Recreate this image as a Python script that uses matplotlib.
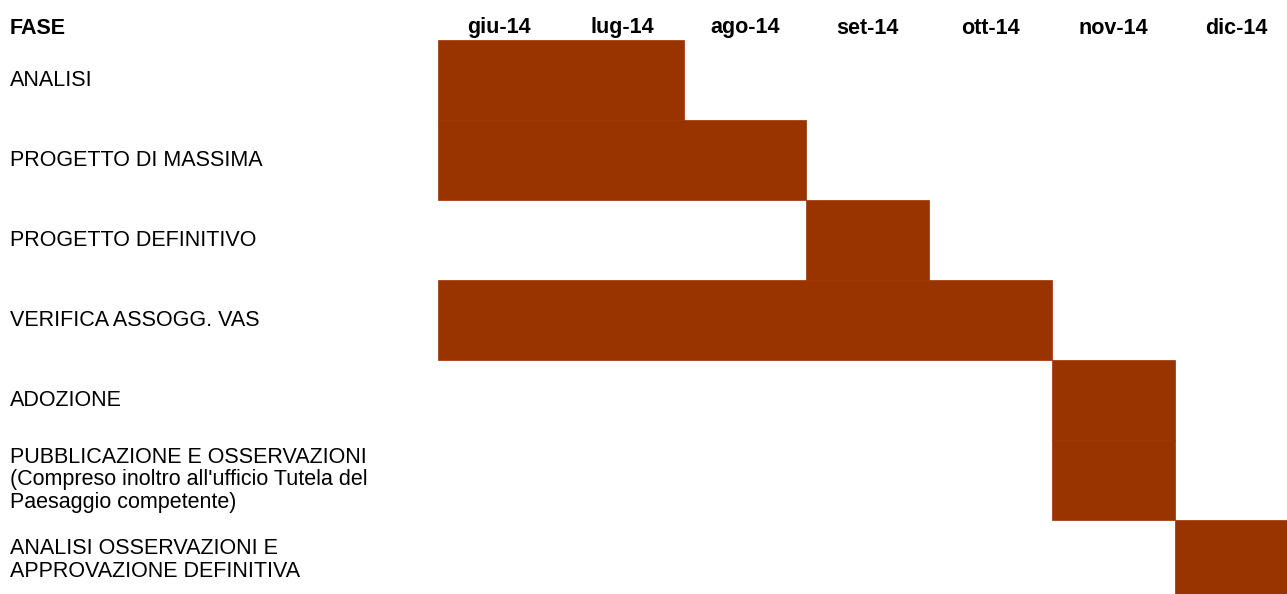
import matplotlib
matplotlib.use("Agg")
import matplotlib.pyplot as plt
import matplotlib.transforms as mtransforms

# ---------------------------------------------------------------------------
# Data
# ---------------------------------------------------------------------------

MONTHS = ["giu-14", "lug-14", "ago-14", "set-14", "ott-14", "nov-14", "dic-14"]

PHASES = [
    "ANALISI",
    "PROGETTO DI MASSIMA",
    "PROGETTO DEFINITIVO",
    "VERIFICA ASSOGG. VAS",
    "ADOZIONE",
    "PUBBLICAZIONE E OSSERVAZIONI\n(Compreso inoltro all'ufficio Tutela del\nPaesaggio competente)",
    "ANALISI OSSERVAZIONI E\nAPPROVAZIONE DEFINITIVA",
]

# start month index and duration in months
START = [0, 0, 3, 0, 5, 5, 6]
DURATION = [2, 3, 1, 5, 1, 1, 1]

BAR_COLOR = "#993300"

# ---------------------------------------------------------------------------
# Plot
# ---------------------------------------------------------------------------

plt.rcParams["font.family"] = ["Liberation Sans", "DejaVu Sans"]

W, H = 1287, 594
fig = plt.figure(figsize=(W / 100, H / 100), dpi=100)

left_px, top_px, col_px, row_px = 438, 40, 122.8, 80
ax = fig.add_axes([left_px / W, 0, (W - left_px) / W, (H - top_px) / H])
ax.set_xlim(0, (W - left_px) / col_px)
ax.set_ylim((H - top_px) / row_px, 0)
ax.axis("off")

ax.barh([i + 0.5 for i in range(len(PHASES))], DURATION, left=START,
        height=1.0, color=BAR_COLOR, edgecolor=BAR_COLOR, linewidth=0.5)

fs = 15.5
# month headers
for i, m in enumerate(MONTHS):
    ax.text(i + 0.5, -12 / row_px, m, ha="center", va="center",
            fontsize=fs, fontweight="bold", clip_on=False)

# phase labels (figure x, data y)
trans = mtransforms.blended_transform_factory(fig.transFigure, ax.transData)
fig.text(10 / W, 1 - 28 / H, "FASE", ha="left", va="center",
         fontsize=fs, fontweight="bold")
for i, p in enumerate(PHASES):
    ax.text(10 / W, i + 0.5, p, transform=trans, ha="left", va="center",
            fontsize=fs, linespacing=1.08, clip_on=False)

fig.savefig("out.png", dpi=100)
